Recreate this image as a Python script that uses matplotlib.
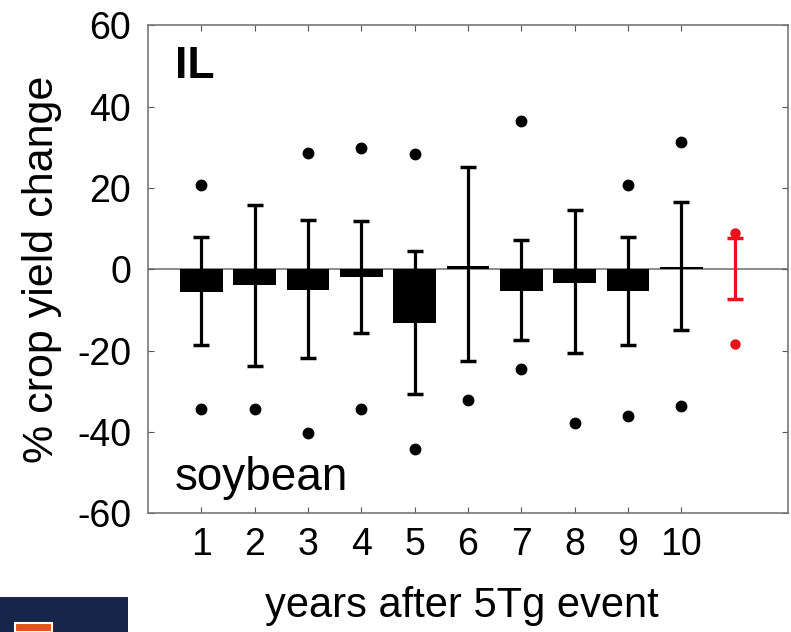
import numpy as np
import matplotlib
matplotlib.use("Agg")
import matplotlib.pyplot as plt
from matplotlib.patches import Rectangle

plt.rcParams['font.family'] = ['Liberation Sans', 'DejaVu Sans']
plt.rcParams['axes.unicode_minus'] = False

years = [1, 2, 3, 4, 5, 6, 7, 8, 9, 10]
mean_change = [-5.6, -3.9, -5.0, -1.9, -13.2, 0.8, -5.3, -3.4, -5.3, 0.6]
upper_whisker = [7.9, 15.7, 12.0, 11.9, 4.5, 25.2, 7.1, 14.5, 7.9, 16.5]
lower_whisker = [-18.7, -23.9, -21.8, -15.8, -30.8, -22.5, -17.3, -20.7, -18.7, -15.0]
upper_dot = [20.7, np.nan, 28.7, 29.7, 28.4, np.nan, 36.5, np.nan, 20.8, 31.3]
lower_dot = [-34.4, -34.4, -40.2, -34.4, -44.1, -32.2, -24.6, -37.9, -36.1, -33.7]

# control run (red)
ctrl_x = 11
ctrl_hi, ctrl_lo = 7.8, -7.2
ctrl_dots = [8.8, -18.4]

fig = plt.figure(figsize=(7.91, 6.32), dpi=100)
ax = fig.add_axes([0.187, 0.188, 0.809, 0.772])

ax.axhline(0, color='#777777', lw=1.2, zorder=1)
ax.bar(years, mean_change, width=0.8, color='black', zorder=2)

x = np.array(years)
lo = np.array(mean_change) - np.array(lower_whisker)
hi = np.array(upper_whisker) - np.array(mean_change)
ax.errorbar(x, mean_change, yerr=[lo, hi], fmt='none', ecolor='black',
            elinewidth=2.3, capsize=6, capthick=2.5, zorder=3)
ax.plot(x, upper_dot, 'o', color='black', ms=7.5, zorder=4)
ax.plot(x, lower_dot, 'o', color='black', ms=7.5, zorder=4)

ax.errorbar([ctrl_x], [0], yerr=[[-ctrl_lo], [ctrl_hi]], fmt='none',
            ecolor='#e8141b', elinewidth=2.3, capsize=6, capthick=2.5, zorder=3)
ax.plot([ctrl_x] * 2, ctrl_dots, 'o', color='#e8141b', ms=6.5, zorder=4)

ax.set_xlim(0, 12)
ax.set_ylim(-60, 60)
ax.set_xticks(years)
ax.set_yticks([-60, -40, -20, 0, 20, 40, 60])
ax.tick_params(direction='in', length=4, width=0.8, color='#555555',
               top=True, right=True, labelsize=27)
ax.tick_params(axis='y', pad=12)
ax.tick_params(axis='x', pad=10)
for s in ax.spines.values():
    s.set_color('#777777')
    s.set_linewidth(1.2)

ax.set_ylabel('% crop yield change', fontsize=31)
ax.yaxis.set_label_coords(-0.135, 0.5)
ax.set_xlabel('years after 5Tg event', fontsize=30)
ax.xaxis.set_label_coords(0.49, -0.15)

ax.text(0.042, 0.958, 'IL', transform=ax.transAxes, fontsize=32,
        fontweight='bold', va='top', ha='left')
ax.text(0.042, 0.047, 'soybean', transform=ax.transAxes, fontsize=33,
        va='baseline', ha='left')

# partial logo bottom-left
fig.patches.append(Rectangle((0, 0), 128 / 791, 35 / 632, transform=fig.transFigure,
                             facecolor='#15264a', edgecolor='none', zorder=0))
fig.patches.append(Rectangle((15 / 791, 0), 37 / 791, 9 / 632, transform=fig.transFigure,
                             facecolor='#e8501e', edgecolor='white', lw=1.5, zorder=1))

fig.savefig('out.png', dpi=100)
